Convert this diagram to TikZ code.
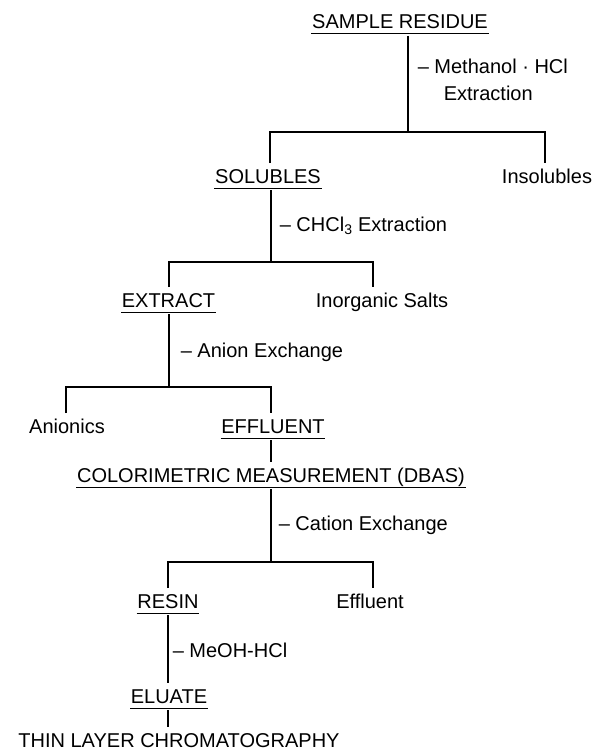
\documentclass[tikz,border=0pt]{standalone}
\usepackage{fontspec}
\setmainfont{Liberation Sans}
\begin{document}
\begin{tikzpicture}[x=1pt,y=-1pt,line width=1.6pt,
    every node/.style={font=\fontsize{20}{24}\selectfont,anchor=base,inner xsep=0pt,inner ysep=4.5pt,text height=14.5pt,text depth=0pt},
    stage/.style={append after command={(\tikzlastnode.south west) edge[line width=1.1pt] (\tikzlastnode.south east)}},
    treatment/.style={anchor=base west}]
    \useasboundingbox (0,0) rectangle (596,752);
    % fractions
    \node[stage] (residue) at (400,28.5) {SAMPLE RESIDUE};
    \node[stage] (solubles) at (268,183) {SOLUBLES};
    \node (insolubles) at (547,183) {Insolubles};
    \node[stage] (extract) at (168.5,307) {EXTRACT};
    \node (salts) at (382,307) {Inorganic Salts};
    \node (anionics) at (67,433) {Anionics};
    \node[stage] (effluent) at (273,433) {EFFLUENT};
    \node[stage] (colorimetric) at (271,482) {COLORIMETRIC MEASUREMENT (DBAS)};
    \node[stage] (resin) at (168,608) {RESIN};
    \node (effluentb) at (370,608) {Effluent};
    \node[stage] (eluate) at (169,703) {ELUATE};
    \node (tlc) at (179,747) {THIN LAYER CHROMATOGRAPHY};
    % treatments
    \node[treatment] (methanol) at (417,74) {-- Methanol · HCl};
    \node[treatment] (methanolb) at (443,100) {Extraction};
    \node[treatment] (chloroform) at (279,231) {-- CHCl\textsubscript{3} Extraction};
    \node[treatment] (anion) at (180,357) {-- Anion Exchange};
    \node[treatment] (cation) at (278,530) {-- Cation Exchange};
    \node[treatment] (meoh) at (172,657) {-- MeOH-HCl};
    % splits
    \coordinate (split1) at (408,132);
    \coordinate (split2) at (271,262);
    \coordinate (split3) at (169,387);
    \coordinate (split4) at (271,562);
    \draw[shorten <=2pt] (residue.south -| split1) -- (split1);
    \draw (solubles.north -| 270,0) |- (split1) -| (insolubles.north -| 545,0);
    \draw[shorten <=2pt] (solubles.south -| split2) -- (split2);
    \draw (extract.north -| split3) |- (split2) -| (salts.north -| 373,0);
    \draw[shorten <=2pt] (extract.south -| split3) -- (split3);
    \draw (anionics.north -| 66,0) |- (split3) -| (effluent.north -| split2);
    \draw[shorten <=2pt] (effluent.south -| split2) -- (colorimetric.north -| split2);
    \draw[shorten <=2pt] (colorimetric.south -| split4) -- (split4);
    \draw (resin.north) |- (split4) -| (effluentb.north -| 373,0);
    \draw[shorten <=2pt] (resin.south) -- (resin.south |- eluate.north);
    \draw[shorten <=2pt] (eluate.south -| resin.south) -- (resin.south |- tlc.north);
\end{tikzpicture}
\end{document}
